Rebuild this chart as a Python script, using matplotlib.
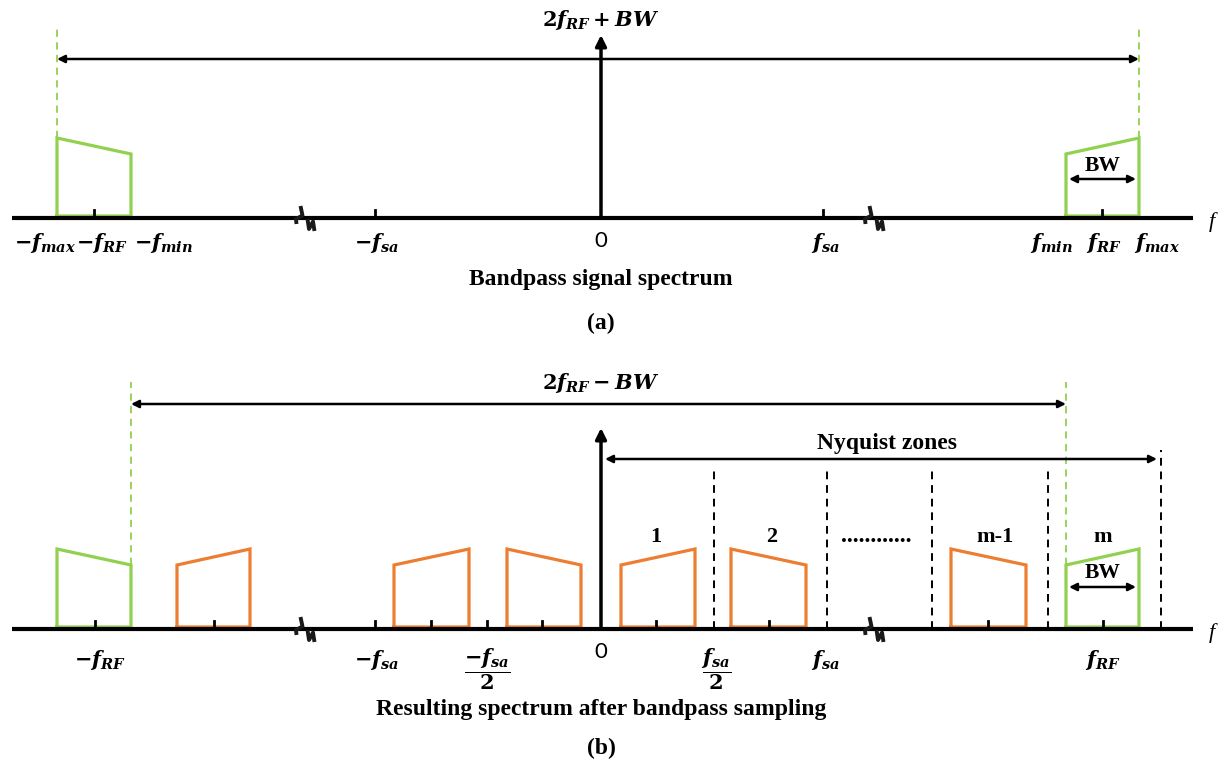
import numpy as np
import matplotlib
matplotlib.use("Agg")
import matplotlib.pyplot as plt

plt.rcParams['mathtext.fontset'] = 'custom'
plt.rcParams['mathtext.it'] = 'DejaVu Serif:italic:bold'
plt.rcParams['mathtext.rm'] = 'DejaVu Serif:bold'
plt.rcParams['mathtext.bf'] = 'DejaVu Serif:bold'

GREEN = '#92D050'
ORANGE = '#ED7D31'
SERIF = 'Liberation Serif'

#---------------------------------------------------------------------
# panel (a) : bandpass signal spectrum
a_band_lo = [-544, 465]
a_band_hi = [-470, 538]
a_band_rising = [False, True]
band_high = 80
band_low = 64
a_ticks = [-507, -226, 222, 501]
a_label_x = [-556, -499, -437, -224, 224, 450, 503, 556]
a_labels = [r'$-f_{max}$', r'$-f_{RF}$', r'$-f_{min}$', r'$-f_{sa}$',
            r'$f_{sa}$', r'$f_{min}$', r'$f_{RF}$', r'$f_{max}$']
a_breaks = [-296, 273]

# panel (b) : after bandpass sampling
b_band_lo = [-544, -424, -207, -94, 20, 130, 350, 465]
b_band_hi = [-470, -351, -132, -20, 94, 205, 425, 538]
b_band_rising = [False, True, True, False, True, False, False, True]
b_band_color = [GREEN, ORANGE, ORANGE, ORANGE, ORANGE, ORANGE, ORANGE, GREEN]
b_ticks = [-506, -387, -226, -170, -114, -59, 55, 168, 387, 502]
b_zone_edges = [113, 226, 331, 447, 560]
b_zone_tops = [163, 163, 163, 163, 179]
b_zone_x = [55, 171, 394, 502]
b_zone_names = ['1', '2', 'm-1', 'm']
b_label_x = [-501, -224, 224, 502]
b_labels = [r'$-f_{RF}$', r'$-f_{sa}$', r'$f_{sa}$', r'$f_{RF}$']
b_frac_x = [-114, 115]
b_fracs = [r'$\dfrac{-f_{sa}}{2}$', r'$\dfrac{f_{sa}}{2}$']
b_breaks = [-296, 273]
#---------------------------------------------------------------------

fig = plt.figure(figsize=(12.27, 7.69), dpi=100)
ax_a = fig.add_axes([0, 1 - 340 / 769, 1, 340 / 769])
ax_a.set_xlim(-601, 626)
ax_a.set_ylim(-122, 218)
ax_b = fig.add_axes([0, 0, 1, 429 / 769])
ax_b.set_xlim(-601, 626)
ax_b.set_ylim(-140, 289)
for ax in (ax_a, ax_b):
    ax.axis('off')


def draw_band(ax, lo, hi, rising, color):
    hl, hr = (band_low, band_high) if rising else (band_high, band_low)
    ax.plot([lo, lo, hi, hi, lo], [2, hl, hr, 2, 2], color=color, lw=2.3,
            solid_joinstyle='miter', zorder=3)


def draw_break(ax, x):
    # small zigzag mark for the broken axis
    ax.plot(np.array([-4.5, -2.5, -9, -8.5]) + x, [12, 2.5, -1, -6],
            color='#1a1a1a', lw=2.8, zorder=6, solid_capstyle='butt')
    ax.plot(np.array([2.5, 4, 8, 9.5]) + x, [-1, -11, -3.5, -13],
            color='#1a1a1a', lw=2.8, zorder=6, solid_capstyle='butt')


def draw_axis(ax):
    ax.plot([-589, 592], [0, 0], color='black', lw=3, zorder=5, solid_capstyle='butt')
    ax.text(611, -4, 'f', fontsize=16, fontstyle='italic', family=SERIF,
            ha='center', va='center')
    ax.text(0, -23, '0', fontsize=16, family='Lato', ha='center', va='center')


def span_arrow(ax, x0, x1, y):
    ax.annotate('', xy=(x0, y), xytext=(x1, y),
                arrowprops=dict(arrowstyle='<|-|>', lw=1.8, color='black',
                                mutation_scale=11, shrinkA=0, shrinkB=0))


# ---------------- (a)
draw_axis(ax_a)
for lo, hi, r in zip(a_band_lo, a_band_hi, a_band_rising):
    draw_band(ax_a, lo, hi, r, GREEN)
for t in a_ticks:
    ax_a.plot([t, t], [0, 8], color='black', lw=2, zorder=5)
for x, lab in zip(a_label_x, a_labels):
    ax_a.text(x, -25, lab, fontsize=15, ha='center', va='center')
for b in a_breaks:
    draw_break(ax_a, b)
ax_a.annotate('', xy=(0, 183), xytext=(0, 0),
              arrowprops=dict(arrowstyle='-|>', lw=2.5, color='black',
                              mutation_scale=16, shrinkA=0, shrinkB=0))
ax_a.text(0, 198, r'$\mathbf{2}f_{RF}+BW$', fontsize=15, ha='center', va='center')
for x in (a_band_lo[0], a_band_hi[1]):
    ax_a.plot([x, x], [band_high, 190], color=GREEN, lw=1.3, ls=(0, (4, 3)))
span_arrow(ax_a, a_band_lo[0], a_band_hi[1], 159)
span_arrow(ax_a, a_band_lo[1] + 3, a_band_hi[1] - 3, 39)
ax_a.text((a_band_lo[1] + a_band_hi[1]) / 2, 52, 'BW', fontsize=15.5,
          fontweight='bold', family=SERIF, ha='center', va='center')
ax_a.text(0, -61, 'Bandpass signal spectrum', fontsize=17, fontweight='bold',
          family=SERIF, ha='center', va='center')
ax_a.text(0, -105, '(a)', fontsize=17, fontweight='bold', family=SERIF,
          ha='center', va='center')

# ---------------- (b)
draw_axis(ax_b)
for lo, hi, r, c in zip(b_band_lo, b_band_hi, b_band_rising, b_band_color):
    draw_band(ax_b, lo, hi, r, c)
for t in b_ticks:
    ax_b.plot([t, t], [0, 8], color='black', lw=2, zorder=5)
for x, top in zip(b_zone_edges, b_zone_tops):
    ax_b.plot([x, x], [0, top], color='black', lw=1.4, ls=(0, (4, 3)), zorder=4)
for x, lab in zip(b_label_x, b_labels):
    ax_b.text(x, -31, lab, fontsize=15, ha='center', va='center')
for x, lab in zip(b_frac_x, b_fracs):
    ax_b.text(x, -40, lab, fontsize=15, ha='center', va='center')
for x, name in zip(b_zone_x, b_zone_names):
    ax_b.text(x, 92, name, fontsize=16, fontweight='bold', family=SERIF,
              ha='center', va='center')
ax_b.text(275, 92, '............', fontsize=17, fontweight='bold', family=SERIF,
          ha='center', va='center')
for b in b_breaks:
    draw_break(ax_b, b)
ax_b.annotate('', xy=(0, 201), xytext=(0, 0),
              arrowprops=dict(arrowstyle='-|>', lw=2.5, color='black',
                              mutation_scale=16, shrinkA=0, shrinkB=0))
span_arrow(ax_b, 4, 556, 170)
ax_b.text(286, 186, 'Nyquist zones', fontsize=17, fontweight='bold',
          family=SERIF, ha='center', va='center')
for x in (b_band_hi[0], b_band_lo[-1]):
    ax_b.plot([x, x], [band_low, 247], color=GREEN, lw=1.3, ls=(0, (4, 3)))
span_arrow(ax_b, b_band_hi[0], b_band_lo[-1], 225)
ax_b.text(0, 246, r'$\mathbf{2}f_{RF}-BW$', fontsize=15, ha='center', va='center')
span_arrow(ax_b, b_band_lo[-1] + 3, b_band_hi[-1] - 3, 42)
ax_b.text((b_band_lo[-1] + b_band_hi[-1]) / 2, 56, 'BW', fontsize=15.5,
          fontweight='bold', family=SERIF, ha='center', va='center')
ax_b.text(0, -81, 'Resulting spectrum after bandpass sampling', fontsize=17,
          fontweight='bold', family=SERIF, ha='center', va='center')
ax_b.text(0, -119, '(b)', fontsize=17, fontweight='bold', family=SERIF,
          ha='center', va='center')

fig.savefig('out.png', dpi=100)
